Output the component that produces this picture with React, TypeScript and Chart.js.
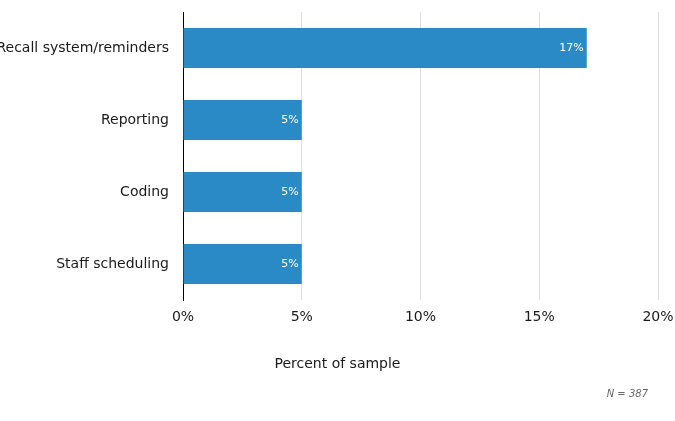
import React, { useEffect, useRef } from "react";
import { Chart, registerables } from "chart.js";

Chart.register(...registerables);

const categories = ["Recall system/reminders", "Reporting", "Coding", "Staff scheduling"];
const values = [17, 5, 5, 5];
const tickValues = [0, 5, 10, 15, 20];
const axisTitle = "Percent of sample";
const noteText = "N = 387";

const FONT = "'DejaVu Sans', Verdana, sans-serif";

export default function App() {
  const ref = useRef<HTMLCanvasElement | null>(null);

  useEffect(() => {
    document.body.style.margin = "0";
    const ctx = ref.current!;
    const labelsPlugin = {
      id: "barLabels",
      afterDatasetsDraw(chart: any) {
        const c = chart.ctx;
        const meta = chart.getDatasetMeta(0);
        c.save();
        c.font = `11px ${FONT}`;
        c.fillStyle = "#ffffff";
        c.textAlign = "right";
        c.textBaseline = "middle";
        meta.data.forEach((el: any, i: number) => {
          c.fillText(`${values[i]}%`, el.x - 3, el.y);
        });
        c.restore();
      },
      afterDraw(chart: any) {
        const c = chart.ctx;
        c.save();
        c.font = `14px ${FONT}`;
        c.fillStyle = "#1a1a1a";
        c.textAlign = "center";
        c.textBaseline = "middle";
        c.fillText(axisTitle, chart.width / 2, 364);
        c.font = `italic 10px ${FONT}`;
        c.fillStyle = "#666666";
        c.textAlign = "right";
        c.fillText(noteText, 648, 394);
        c.restore();
      },
    };
    const chart = new Chart(ctx, {
      type: "bar",
      data: {
        labels: categories,
        datasets: [
          {
            data: values,
            backgroundColor: "#2a8ac6",
            barPercentage: 0.555,
            categoryPercentage: 1,
          },
        ],
      },
      options: {
        indexAxis: "y",
        animation: false,
        responsive: false,
        maintainAspectRatio: false,
        layout: { padding: { top: 0, right: 0, left: 0, bottom: 0 } },
        plugins: { legend: { display: false }, tooltip: { enabled: false } },
        scales: {
          x: {
            min: 0,
            max: 20,
            afterBuildTicks(scale: any) {
              scale.ticks = tickValues.map((v) => ({ value: v }));
            },
            afterFit(scale: any) {
              scale.height = 121;
              scale.paddingRight = 17;
              scale.paddingLeft = 0;
            },
            ticks: {
              callback: (v: any) => `${v}%`,
              color: "#1a1a1a",
              font: { family: FONT, size: 14 },
              padding: 9,
              maxRotation: 0,
            },
            grid: { color: "#dddddd", drawTicks: false },
            border: { display: false },
          },
          y: {
            afterFit(scale: any) {
              scale.width = 183;
              scale.paddingTop = 12;
              scale.paddingBottom = 0;
            },
            ticks: {
              color: "#1a1a1a",
              font: { family: FONT, size: 14 },
              padding: 14,
            },
            grid: { display: false, drawTicks: false },
            border: { display: true, color: "#000000", width: 1 },
          },
        },
      },
      plugins: [labelsPlugin],
    });
    return () => chart.destroy();
  }, []);

  return (
    <div style={{ position: "absolute", left: 0, top: 0, width: 675, height: 421, background: "#fff" }}>
      <canvas ref={ref} width={675} height={421} style={{ width: 675, height: 421 }} />
    </div>
  );
}
